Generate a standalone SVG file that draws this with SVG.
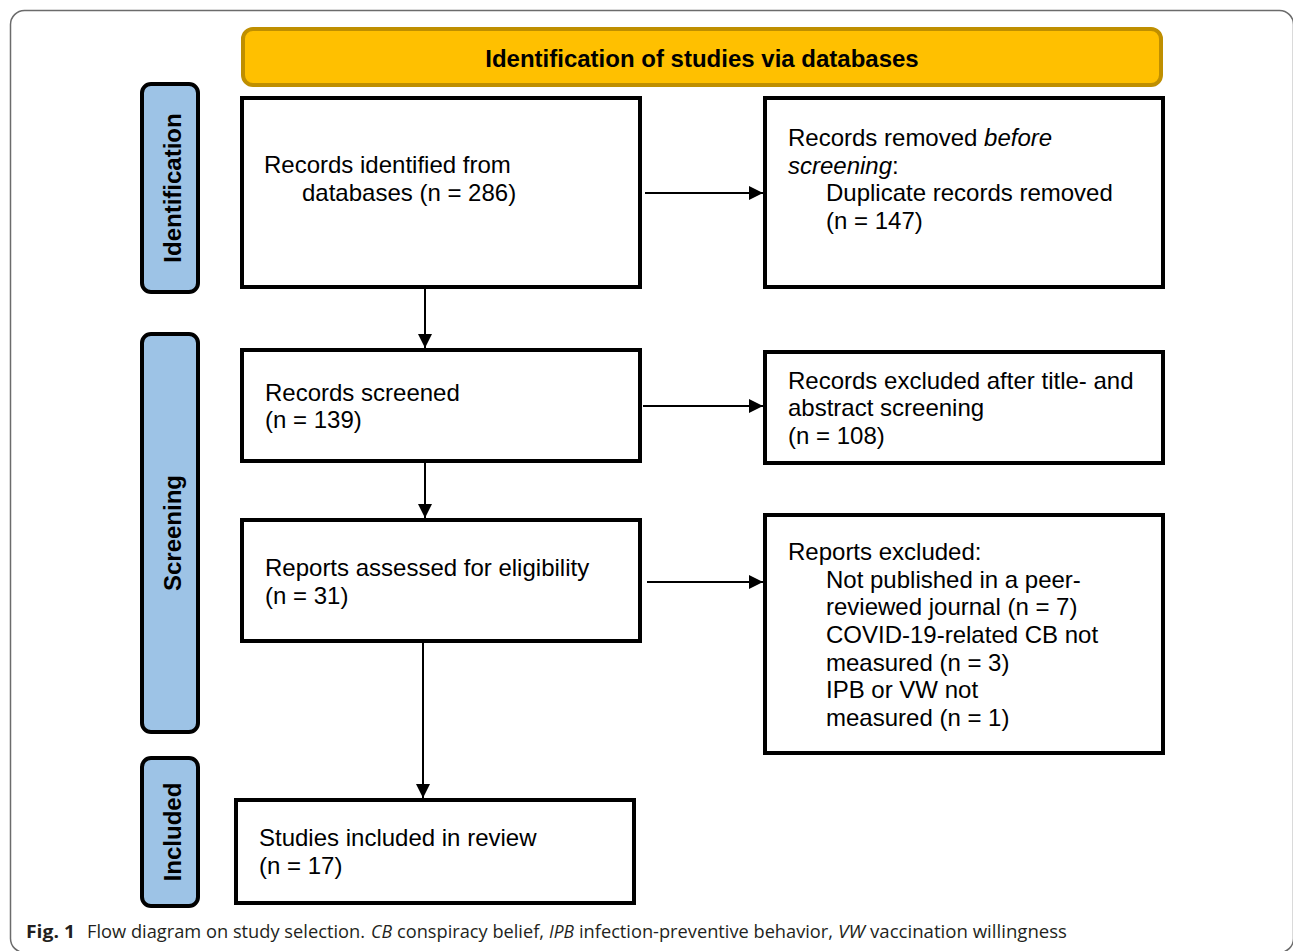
<svg xmlns="http://www.w3.org/2000/svg" width="1293" height="951" viewBox="0 0 1293 951">
<defs>
<style>
.box{fill:#fff;stroke:#000;stroke-width:4}
.side{fill:#9DC3E6;stroke:#000;stroke-width:4}
.t{font-family:"Liberation Sans",Arial,sans-serif;font-size:24px;fill:#000}
.sl{font-family:"Liberation Sans",Arial,sans-serif;font-size:24px;font-weight:bold;fill:#000;text-anchor:middle}
.ln{stroke:#000;stroke-width:2;fill:none}
.cap{font-family:"Open Sans","Liberation Sans",sans-serif;font-size:17.5px;fill:#231f20}
.ci{font-style:italic}
</style>
<marker id="ah" viewBox="0 0 10 10" refX="10" refY="5" markerWidth="7" markerHeight="7" markerUnits="strokeWidth" orient="auto">
<path d="M0,0 L10,5 L0,10 Z" fill="#000"/>
</marker>
</defs>
<rect x="0" y="0" width="1293" height="951" fill="#fff"/>
<rect x="10.5" y="10.5" width="1283" height="942" rx="14" fill="none" stroke="#6b6b6b" stroke-width="1.5"/>

<g id="header">
<rect x="243" y="29" width="918" height="56" rx="10" fill="#FFC000" stroke="#BF8F00" stroke-width="4"/>
<text class="sl" x="702" y="67">Identification of studies via databases</text>
</g>

<g id="side-identification">
<rect class="side" x="142" y="84" width="56" height="208" rx="9"/>
<text class="sl" transform="translate(181,188) rotate(-90)">Identification</text>
</g>
<g id="side-screening">
<rect class="side" x="142" y="334" width="56" height="398" rx="9"/>
<text class="sl" transform="translate(181,533) rotate(-90)">Screening</text>
</g>
<g id="side-included">
<rect class="side" x="142" y="758" width="56" height="148" rx="9"/>
<text class="sl" transform="translate(181,832) rotate(-90)">Included</text>
</g>

<g id="connectors">
<line class="ln" x1="425" y1="289" x2="425" y2="348" marker-end="url(#ah)"/>
<line class="ln" x1="645" y1="193" x2="763" y2="193" marker-end="url(#ah)"/>
<line class="ln" x1="643" y1="406" x2="763" y2="406" marker-end="url(#ah)"/>
<line class="ln" x1="425" y1="463" x2="425" y2="518" marker-end="url(#ah)"/>
<line class="ln" x1="647" y1="582" x2="763" y2="582" marker-end="url(#ah)"/>
<line class="ln" x1="423" y1="643" x2="423" y2="798" marker-end="url(#ah)"/>
</g>

<g id="n-identified">
<rect class="box" x="242" y="98" width="398" height="189"/>
<text class="t" x="264" y="173">Records identified from</text>
<text class="t" x="302" y="201">databases (n = 286)</text>
</g>
<g id="n-removed">
<rect class="box" x="765" y="98" width="398" height="189"/>
<text class="t" x="788" y="146">Records removed <tspan font-style="italic">before</tspan></text>
<text class="t" x="788" y="174"><tspan font-style="italic">screening</tspan>:</text>
<text class="t" x="826" y="201">Duplicate records removed</text>
<text class="t" x="826" y="229">(n = 147)</text>
</g>
<g id="n-screened">
<rect class="box" x="242" y="350" width="398" height="111"/>
<text class="t" x="265" y="401">Records screened</text>
<text class="t" x="265" y="428">(n = 139)</text>
</g>
<g id="n-excluded">
<rect class="box" x="765" y="352" width="398" height="111"/>
<text class="t" x="788" y="389">Records excluded after title- and</text>
<text class="t" x="788" y="416">abstract screening</text>
<text class="t" x="788" y="444">(n = 108)</text>
</g>
<g id="n-assessed">
<rect class="box" x="242" y="520" width="398" height="121"/>
<text class="t" x="265" y="576">Reports assessed for eligibility</text>
<text class="t" x="265" y="604">(n = 31)</text>
</g>
<g id="n-reports-excluded">
<rect class="box" x="765" y="515" width="398" height="238"/>
<text class="t" x="788" y="560">Reports excluded:</text>
<text class="t" x="826" y="588">Not published in a peer-</text>
<text class="t" x="826" y="615">reviewed journal (n = 7)</text>
<text class="t" x="826" y="643">COVID-19-related CB not</text>
<text class="t" x="826" y="671">measured (n = 3)</text>
<text class="t" x="826" y="698">IPB or VW not</text>
<text class="t" x="826" y="726">measured (n = 1)</text>
</g>
<g id="n-included">
<rect class="box" x="236" y="800" width="398" height="103"/>
<text class="t" x="259" y="846">Studies included in review</text>
<text class="t" x="259" y="874">(n = 17)</text>
</g>

<g id="caption">
<text class="cap" x="26" y="938" font-weight="bold" textLength="49" lengthAdjust="spacingAndGlyphs">Fig. 1</text>
<text class="cap" x="87" y="938" textLength="278" lengthAdjust="spacingAndGlyphs">Flow diagram on study selection.</text>
<text class="cap ci" x="371" y="938" textLength="21" lengthAdjust="spacingAndGlyphs">CB</text>
<text class="cap" x="397" y="938" textLength="147" lengthAdjust="spacingAndGlyphs">conspiracy belief,</text>
<text class="cap ci" x="549" y="938" textLength="25" lengthAdjust="spacingAndGlyphs">IPB</text>
<text class="cap" x="579" y="938" textLength="254" lengthAdjust="spacingAndGlyphs">infection-preventive behavior,</text>
<text class="cap ci" x="838" y="938" textLength="27" lengthAdjust="spacingAndGlyphs">VW</text>
<text class="cap" x="870" y="938" textLength="197" lengthAdjust="spacingAndGlyphs">vaccination willingness</text>
</g>
</svg>
